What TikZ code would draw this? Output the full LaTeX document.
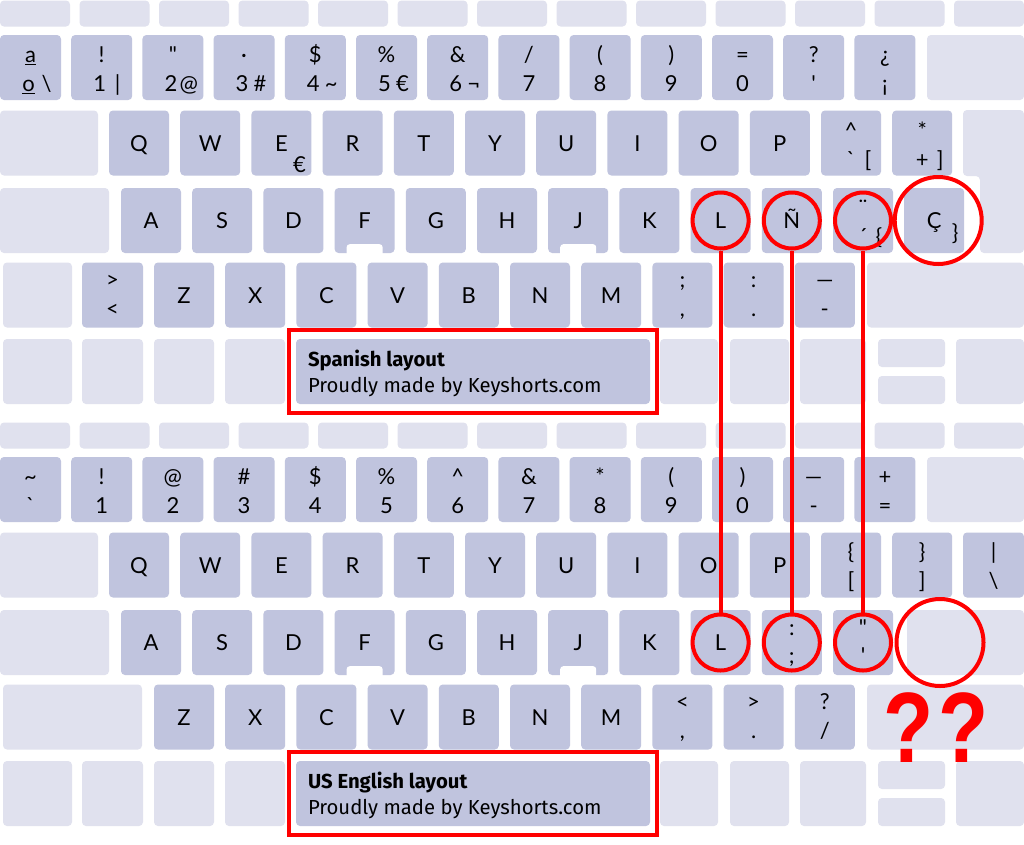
\documentclass[tikz,border=0pt]{standalone}
\usepackage{fontspec}
\setmainfont{Lato}
\newfontfamily\platefont{Fira Sans}
\newfontfamily\markfont{Liberation Sans}
\usetikzlibrary{positioning, fit}
\definecolor{keydark}{HTML}{C0C4DE}
\definecolor{keylight}{HTML}{E0E1EE}
\definecolor{markred}{HTML}{FF0000}
\newcommand\keysize{\fontsize{22}{24}\selectfont}

\begin{document}
\begin{tikzpicture}[
        x=1pt, y=-1pt,
        key/.style={rectangle, rounded corners=4pt, fill=keydark, inner sep=0pt, minimum width=#1, minimum height=65pt},
        key/.default=60,
        dimkey/.style={key=#1, fill=keylight},
        dimkey/.default=60,
        notch/.style={rectangle, rounded corners=3pt, fill=white, minimum width=36pt, minimum height=18pt},
        keytext/.style={anchor=base, inner sep=0pt, font=\keysize},
        plate/.style={anchor=base west, inner sep=0pt, font=\platefont\fontsize{20.3}{24}\selectfont},
        ring/.style={circle, draw=markred, line width=4pt, minimum size=#1, inner sep=0pt},
        ring/.default=56,
        redline/.style={draw=markred, line width=4pt},
        redframe/.style={draw=markred, line width=4pt, inner xsep=6.5pt, inner ysep=9pt}
    ]
    \fill[white] (0,0) rectangle (1024,844);
    \useasboundingbox (0,0) rectangle (1024,844);

    % blank keys shared by both boards
    \foreach \oy/\lay/\title in {0/es/Spanish, 422/us/US English} {
        \foreach \j in {0,...,12}
            \node[dimkey=70, minimum height=26pt] (fn-\lay-\j) at (35+79.5*\j, 13.5+\oy) {};
        \foreach \i in {0,...,12}
            \node[key=61] (num-\lay-\i) at (30.5+71.2*\i, 67.5+\oy) {};
        \node[dimkey=97] (bksp-\lay) at (975.5, 67.5+\oy) {};
        \node[dimkey=98] (tab-\lay) at (49, 143+\oy) {};
        \foreach \i in {0,...,11}
            \node[key] (q-\lay-\i) at (139+71.2*\i, 143+\oy) {};
        \node[dimkey=109] (caps-\lay) at (54.5, 220.5+\oy) {};
        \foreach \i in {0,...,10}
            \node[key] (a-\lay-\i) at (151+71.2*\i, 220.5+\oy) {};
        \node[notch] (fnotch-\lay) at (a-\lay-3.south) {};
        \node[notch] (jnotch-\lay) at (a-\lay-6.south) {};
        \foreach \i in {0,...,9}
            \node[key] (z-\lay-\i) at (184+71.2*\i, 295+\oy) {};
        \node[dimkey=157] (rshift-\lay) at (945.5, 295+\oy) {};
        \foreach \lft/\w [count=\k] in {3/69, 82/61, 154/60, 225/60, 660/58, 730/59, 800/66, 956/68}
            \node[dimkey=\w] (mod-\lay-\k) at (\lft+\w/2, 371.5+\oy) {};
        \node[dimkey=67, minimum height=28pt] (up-\lay) at (911.5, 353+\oy) {};
        \node[dimkey=67, minimum height=28pt] (down-\lay) at (911.5, 390+\oy) {};
        \node[key=354] (space-\lay) at (473, 371.5+\oy) {};
        \node[redframe, fit=(space-\lay)] (frame-\lay) {};
        \node[plate] (title-\lay) at ([xshift=12pt, yshift=5.5pt]space-\lay.west) {\bfseries \title\ layout};
        \node[plate] (credit-\lay) at ([xshift=12pt, yshift=-20.5pt]space-\lay.west) {Proudly made by Keyshorts.com};
        \foreach \i [count=\n from 0] in {Q,W,E,R,T,Y,U,I,O,P}
            \node[keytext] (ql-\lay-\n) at ([yshift=-8pt]q-\lay-\n.center) {\i};
        \foreach \i [count=\n from 0] in {A,S,D,F,G,H,J,K,L}
            \node[keytext] (al-\lay-\n) at ([yshift=-8pt]a-\lay-\n.center) {\i};
        \foreach \i [count=\n from 0] in {Z,X,C,V,B,N,M}
            \node[keytext] (zl-\lay-\n) at ([yshift=-8pt]z-\lay-\n.center) {\i};
    }

    % Spanish board
    \node[key] (a-es-11) at (934.2, 220.5) {};
    \node[key=61] (lt-es) at (112.5, 295) {};
    \node[dimkey=69] (lshift-es) at (37.5, 295) {};
    \fill[keylight, rounded corners=4pt] (963,110) -- (1024,110) -- (1024,253) -- (980,253) -- (980,176) -- (963,176) -- cycle;

    \foreach \i/\sh in {0/\underline{a}, 1/!, 2/\textquotedbl, 3/·, 4/\$, 5/\%, 6/\&, 7/{/}, 8/(, 9/), 10/=, 11/?, 12/¿}
        \node[keytext] (nsh-es-\i) at ([yshift=5pt]num-es-\i.center) {\sh};
    \foreach \i/\pl/\ex in {0/\underline{o}/\textbackslash, 1/1/|, 2/2/@, 3/3/\#, 4/4/\textasciitilde, 5/5/€, 6/6/¬} {
        \node[keytext] (npl-es-\i) at ([xshift=-2pt, yshift=-24pt]num-es-\i.center) {\pl};
        \node[keytext] (nex-es-\i) at ([xshift=16pt, yshift=-24pt]num-es-\i.center) {\ex};
    }
    \foreach \i/\pl in {7/7, 8/8, 9/9, 10/0, 11/\textquotesingle, 12/¡}
        \node[keytext] (npl-es-\i) at ([yshift=-24pt]num-es-\i.center) {\pl};

    \node[keytext] (euro-es) at ([xshift=18pt, yshift=-29pt]q-es-2.center) {€};
    \node[keytext] (qsh-es-10) at ([yshift=5pt]q-es-10.center) {\textasciicircum};
    \node[keytext] (qpl-es-10) at ([yshift=-24pt]q-es-10.center) {\textasciigrave};
    \node[keytext] (qex-es-10) at ([xshift=17pt, yshift=-24pt]q-es-10.center) {[};
    \node[keytext] (qsh-es-11) at ([yshift=5pt]q-es-11.center) {*};
    \node[keytext] (qpl-es-11) at ([yshift=-24pt]q-es-11.center) {+};
    \node[keytext] (qex-es-11) at ([xshift=18pt, yshift=-24pt]q-es-11.center) {]};

    \node[keytext] (al-es-9) at ([yshift=-8pt]a-es-9.center) {Ñ};
    \node[keytext] (ash-es-10) at ([yshift=5pt]a-es-10.center) {¨};
    \node[keytext] (apl-es-10) at ([yshift=-24pt]a-es-10.center) {´};
    \node[keytext] (aex-es-10) at ([xshift=16pt, yshift=-24pt]a-es-10.center) {\{};
    \node[keytext] (al-es-11) at ([yshift=-8pt]a-es-11.center) {Ç};
    \node[keytext] (aex-es-11) at ([xshift=21pt, yshift=-20pt]a-es-11.center) {\}};

    \node[keytext] (ltsh-es) at ([yshift=8pt]lt-es.center) {>};
    \node[keytext] (ltpl-es) at ([yshift=-21pt]lt-es.center) {<};
    \foreach \i/\sh/\pl in {7/;/{,}, 8/:/., 9/—/-} {
        \node[keytext] (zsh-es-\i) at ([yshift=8pt]z-es-\i.center) {\sh};
        \node[keytext] (zpl-es-\i) at ([yshift=-21pt]z-es-\i.center) {\pl};
    }

    % US board
    \node[key=61] (q-us-12) at (993.5, 565) {};
    \node[dimkey=117] (enter-us) at (965.5, 642.5) {};
    \node[dimkey=139] (lshift-us) at (72.5, 717) {};

    \foreach \i/\sh/\pl in {0/\textasciitilde/\textasciigrave, 1/!/1, 2/@/2, 3/\#/3, 4/\$/4, 5/\%/5, 6/\textasciicircum/6, 7/\&/7, 8/*/8, 9/(/9, 10/)/0, 11/—/-, 12/+/=} {
        \node[keytext] (nsh-us-\i) at ([yshift=5pt]num-us-\i.center) {\sh};
        \node[keytext] (npl-us-\i) at ([yshift=-24pt]num-us-\i.center) {\pl};
    }
    \foreach \i/\sh/\pl in {10/\{/[, 11/\}/], 12/|/\textbackslash} {
        \node[keytext] (qsh-us-\i) at ([yshift=6pt]q-us-\i.center) {\sh};
        \node[keytext] (qpl-us-\i) at ([yshift=-23pt]q-us-\i.center) {\pl};
    }
    \foreach \i/\sh/\pl in {9/:/;, 10/\textquotedbl/\textquotesingle} {
        \node[keytext] (ash-us-\i) at ([yshift=7pt]a-us-\i.center) {\sh};
        \node[keytext] (apl-us-\i) at ([yshift=-21pt]a-us-\i.center) {\pl};
    }
    \foreach \i/\sh/\pl in {7/</{,}, 8/>/., 9/?/{/}} {
        \node[keytext] (zsh-us-\i) at ([yshift=8pt]z-us-\i.center) {\sh};
        \node[keytext] (zpl-us-\i) at ([yshift=-21pt]z-us-\i.center) {\pl};
    }

    % red marks
    \node[ring] (ring-es-l) at (a-es-8) {};
    \node[ring] (ring-es-n) at (a-es-9) {};
    \node[ring] (ring-es-acc) at (a-es-10) {};
    \node[ring=87] (ring-es-c) at ([xshift=4pt]a-es-11.center) {};
    \node[ring] (ring-us-l) at (a-us-8) {};
    \node[ring] (ring-us-semi) at (a-us-9) {};
    \node[ring] (ring-us-quote) at (a-us-10) {};
    \node[ring=87] (ring-us-none) at (940, 642.5) {};

    \draw[redline] (ring-es-l) -- (ring-us-l);
    \draw[redline] (ring-es-n) -- (ring-us-semi);
    \draw[redline] (ring-es-acc) -- (ring-us-quote);

    \node[font=\markfont\bfseries\fontsize{100}{100}\selectfont, text=markred, inner sep=0pt] (puzzle) at (936, 728) {\scalebox{0.82}[1]{?\kern6pt?}};
\end{tikzpicture}
\end{document}
